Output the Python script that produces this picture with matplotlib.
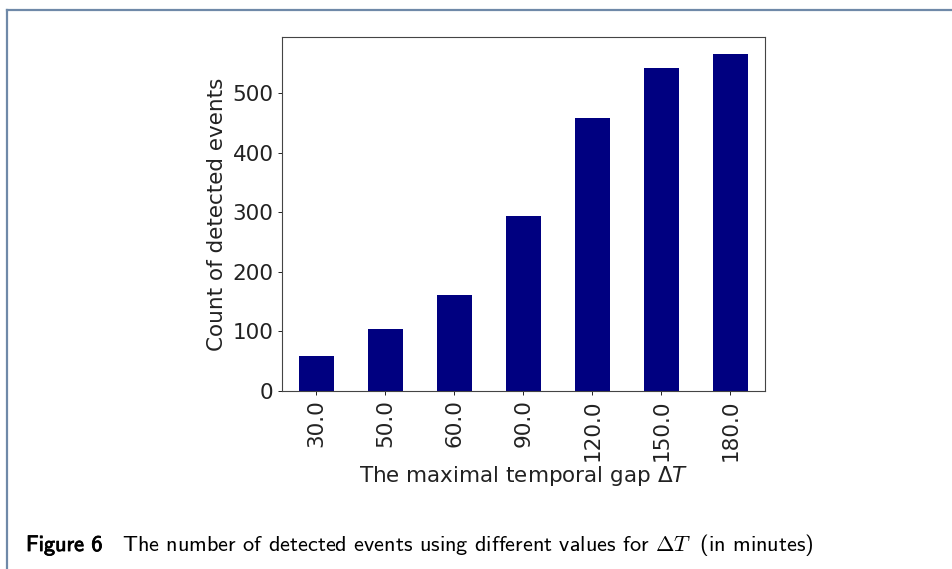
import matplotlib
matplotlib.use("Agg")
import matplotlib.pyplot as plt
import matplotlib.patheffects as pe
from matplotlib.lines import Line2D

# data
gaps = [30.0, 50.0, 60.0, 90.0, 120.0, 150.0, 180.0]
counts = [59, 104, 161, 294, 458, 542, 566]
tick_labels = [f"{g:.1f}" for g in gaps]

W, H = 953, 569
fig = plt.figure(figsize=(W / 100, H / 100), dpi=100)

# page frame (top and left rule of the figure box)
frame_col = "#6f89a8"
fig.add_artist(Line2D([7.5 / W, 1.0], [1 - 9.5 / H, 1 - 9.5 / H],
                      transform=fig.transFigure, color=frame_col, lw=1.6))
fig.add_artist(Line2D([7.5 / W, 7.5 / W], [0.0, 1 - 9.5 / H],
                      transform=fig.transFigure, color=frame_col, lw=1.6))

# axes placed to match the reference
ax = fig.add_axes([282 / W, 1 - 391 / H, (765 - 282) / W, (391 - 37) / H])

pos = list(range(len(gaps)))
ax.bar(pos, counts, width=0.5, color="navy")
ax.set_xlim(-0.5, len(gaps) - 0.5)
ax.set_ylim(0, max(counts) * 1.05)
ax.set_xticks(pos)
ax.set_xticklabels(tick_labels, rotation=90)
ax.set_yticks([0, 100, 200, 300, 400, 500])

fs = 15.5
ax.tick_params(labelsize=fs, length=3, width=0.7, pad=3, colors="#222222")
for s in ax.spines.values():
    s.set_linewidth(0.8)
    s.set_color("#444444")

ax.set_ylabel("Count of detected events", fontsize=fs, color="#222222", labelpad=4)
ax.set_xlabel(r"The maximal temporal gap $\Delta T$", fontsize=fs, color="#222222", labelpad=2)

# caption below the chart
cap_fs = 16
fig.text(26 / W, 1 - 551 / H, "Figure 6", fontsize=cap_fs, family="cmss10",
         va="baseline", ha="left",
         path_effects=[pe.withStroke(linewidth=0.6, foreground="black")])
fig.text(122 / W, 1 - 551 / H,
         r"The number of detected events using different values for $\Delta T\;$ (in minutes)",
         fontsize=cap_fs, family="cmss10", math_fontfamily="cm",
         va="baseline", ha="left")

fig.savefig("out.png", dpi=100)
